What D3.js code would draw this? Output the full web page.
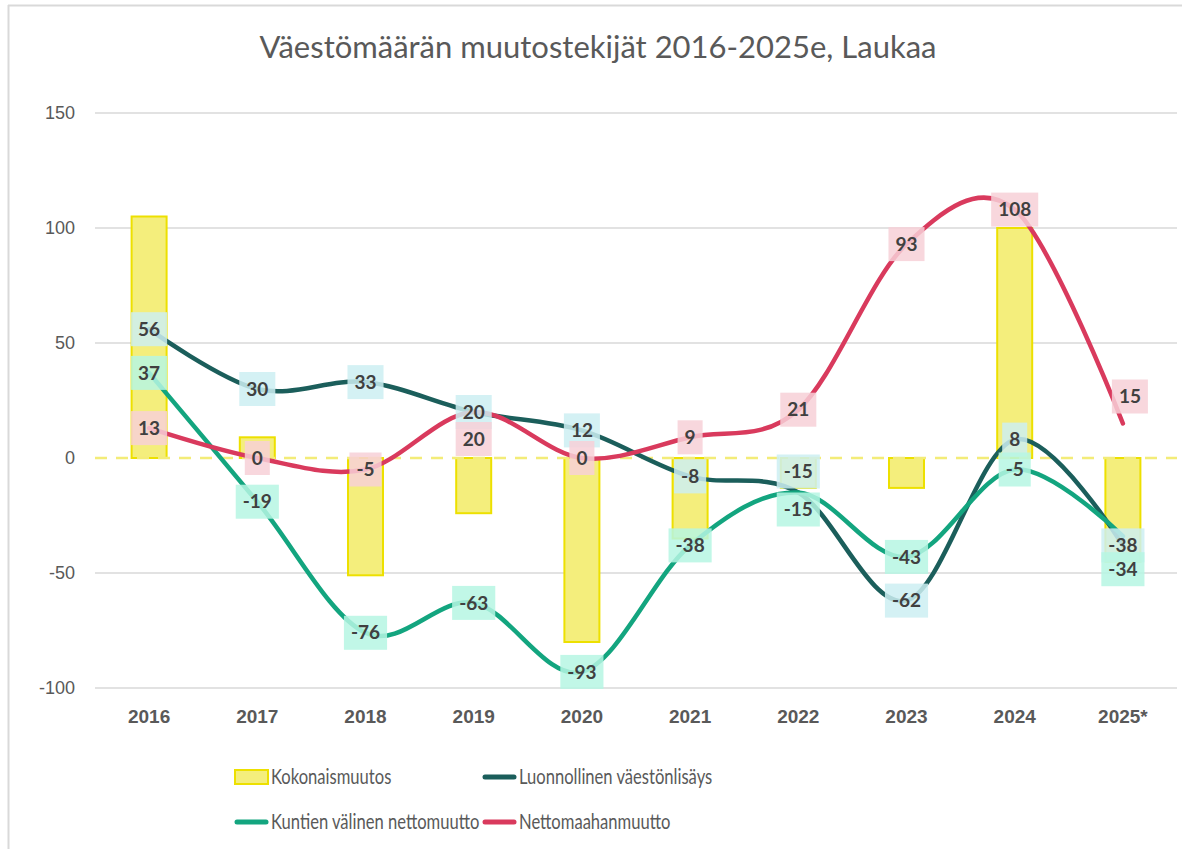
<!DOCTYPE html>
<html>
<head>
<meta charset="utf-8">
<title>Väestömäärän muutostekijät</title>
<script src="https://d3js.org/d3.v7.min.js"></script>
<style>
  body { margin: 0; background: #fff; }
  svg { display: block; font-family: Lato, "Open Sans", sans-serif; }
  .grid line { stroke: #d9d9d9; stroke-width: 1.5; }
  .tick text { fill: #595959; }
</style>
</head>
<body>
<svg id="chart" width="1182" height="849"></svg>
<script>
// data
var years = ["2016", "2017", "2018", "2019", "2020", "2021", "2022", "2023", "2024", "2025*"];
var kokonais = [105, 9, -51, -24, -80, -35, -13, -13, 100, -45];
var luonnollinen = [56, 30, 33, 20, 12, -8, -15, -62, 8, -38];
var kuntien = [37, -19, -76, -63, -93, -38, -15, -43, -5, -34];
var netto = [13, 0, -5, 20, 0, 9, 21, 93, 108, 15];
var yTicks = [-100, -50, 0, 50, 100, 150];
var title = "Väestömäärän muutostekijät 2016-2025e, Laukaa";

var series = [
  {name: "Luonnollinen väestönlisäys", values: luonnollinen, color: "#1b5e5b", box: "#cdeff2"},
  {name: "Kuntien välinen nettomuutto", values: kuntien, color: "#13a57f", box: "#b6f6e3"},
  {name: "Nettomaahanmuutto", values: netto, color: "#d93a5d", box: "#f7d0d7"}
];

// label nudges (series index -> year index -> [dx, dy])
var nudge = {
  0: {6: [0, -21]},
  1: {6: [0, 17], 9: [0, 33]},
  2: {3: [0, 27], 9: [7, -27]}
};

var svg = d3.select("#chart");

// chart area border
svg.append("line").attr("x1", 8).attr("x2", 1182).attr("y1", 5.5).attr("y2", 5.5)
  .attr("stroke", "#d9d9d9").attr("stroke-width", 2);
svg.append("line").attr("x1", 8.5).attr("x2", 8.5).attr("y1", 5).attr("y2", 849)
  .attr("stroke", "#d9d9d9").attr("stroke-width", 2);

var x = d3.scaleBand().domain(years).range([95, 1177]).padding(0);
var y = d3.scaleLinear().domain([-100, 150]).range([688, 113]);
var cx = function(i) { return x(years[i]) + x.bandwidth() / 2; };

svg.append("text")
  .attr("x", 598).attr("y", 58)
  .attr("text-anchor", "middle")
  .attr("fill", "#595959")
  .style("font-size", "31px")
  .text(title);

// gridlines
svg.append("g").attr("class", "grid")
  .selectAll("line")
  .data(yTicks.filter(function(d) { return d !== 0; }))
  .enter().append("line")
    .attr("x1", 95).attr("x2", 1177)
    .attr("y1", function(d) { return y(d); })
    .attr("y2", function(d) { return y(d); });

// y axis
var yAxis = svg.append("g")
  .attr("transform", "translate(80,0)")
  .call(d3.axisLeft(y).tickValues(yTicks).tickFormat(String).tickSize(0).tickPadding(5));
yAxis.select(".domain").remove();
yAxis.selectAll("text").style("font-size", "18px");

// x axis
var xAxis = svg.append("g")
  .attr("transform", "translate(0,704)")
  .call(d3.axisBottom(x).tickSize(0).tickPadding(6));
xAxis.select(".domain").remove();
xAxis.selectAll("text").style("font-size", "19px").style("font-weight", "bold");

// bars
var barW = 35;
svg.append("g").selectAll("rect")
  .data(kokonais)
  .enter().append("rect")
    .attr("x", function(d, i) { return cx(i) - barW / 2; })
    .attr("y", function(d) { return y(Math.max(d, 0)); })
    .attr("width", barW)
    .attr("height", function(d) { return Math.abs(y(d) - y(0)); })
    .attr("fill", "#f4ee7c")
    .attr("stroke", "#ede000")
    .attr("stroke-width", 2);

// zero line
svg.append("line")
  .attr("x1", 95).attr("x2", 1177)
  .attr("y1", y(0)).attr("y2", y(0))
  .attr("stroke", "#f3ec78").attr("stroke-width", 2.5)
  .attr("stroke-dasharray", "12,9");

// lines
var line = d3.line()
  .x(function(d, i) { return cx(i); })
  .y(function(d) { return y(d); })
  .curve(d3.curveCardinal.tension(0));

series.forEach(function(s) {
  svg.append("path")
    .datum(s.values)
    .attr("d", line)
    .attr("fill", "none")
    .attr("stroke", s.color)
    .attr("stroke-width", 4.5)
    .attr("stroke-linecap", "round");
});

// data labels
series.forEach(function(s, si) {
  var g = svg.append("g").selectAll("g")
    .data(s.values)
    .enter().append("g")
      .attr("transform", function(d, i) {
        var n = (nudge[si] && nudge[si][i]) || [0, 0];
        return "translate(" + (cx(i) + n[0]) + "," + (y(d) + n[1]) + ")";
      });
  g.append("text")
    .attr("text-anchor", "middle")
    .attr("dy", "0.35em")
    .attr("fill", "#404040")
    .style("font-size", "19px")
    .style("font-weight", "bold")
    .text(function(d) { return d; });
  g.insert("rect", "text")
    .each(function() {
      var w = this.parentNode.querySelector("text").getComputedTextLength() + 14;
      d3.select(this).attr("x", -w / 2).attr("width", w);
    })
    .attr("y", -17).attr("height", 34)
    .attr("fill", s.box).attr("fill-opacity", 0.85);
});

// legend
var legend = [
  {name: "Kokonaismuutos", type: "bar", x: 235, y: 777},
  {name: series[0].name, type: "line", color: series[0].color, x: 483, y: 777},
  {name: series[1].name, type: "line", color: series[1].color, x: 235, y: 822},
  {name: series[2].name, type: "line", color: series[2].color, x: 483, y: 822}
];
var lg = svg.append("g").selectAll("g")
  .data(legend)
  .enter().append("g")
    .attr("transform", function(d) { return "translate(" + d.x + "," + d.y + ")"; });
lg.filter(function(d) { return d.type === "bar"; })
  .append("rect")
    .attr("x", 0).attr("y", -7).attr("width", 33).attr("height", 14)
    .attr("fill", "#f4ee7c").attr("stroke", "#ede000").attr("stroke-width", 2);
lg.filter(function(d) { return d.type === "line"; })
  .append("line")
    .attr("x1", 2).attr("x2", 31).attr("y1", 0).attr("y2", 0)
    .attr("stroke", function(d) { return d.color; })
    .attr("stroke-width", 5).attr("stroke-linecap", "round");
lg.append("text")
  .attr("transform", "translate(36,0) scale(0.79,1)")
  .attr("dy", "0.35em")
  .attr("fill", "#595959")
  .style("font-size", "21px")
  .text(function(d) { return d.name; });
</script>
</body>
</html>
